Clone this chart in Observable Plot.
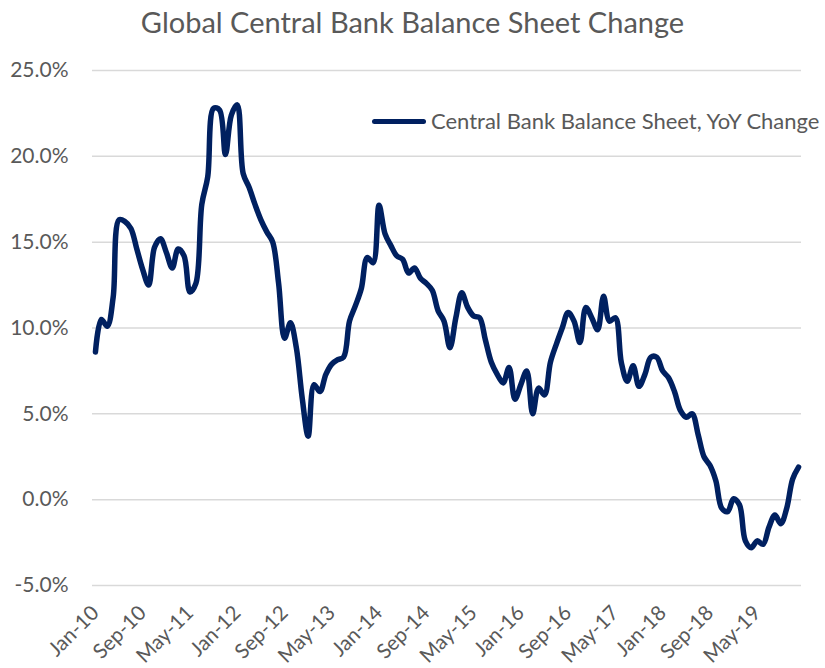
<!DOCTYPE html>
<html>
<head>
<meta charset="utf-8">
<script src="https://cdn.jsdelivr.net/npm/d3@7"></script>
<script src="https://cdn.jsdelivr.net/npm/@observablehq/plot@0.6"></script>
<style>
  html, body { margin: 0; padding: 0; background: #fff; }
  #wrap { position: relative; width: 825px; height: 668px; font-family: Lato, "Open Sans", sans-serif; color: #595959; overflow: hidden; }
  #title { position: absolute; left: 0; top: 2px; width: 825px; text-align: center; font-size: 29px; line-height: 40px; color: #595959; }
  #chart { position: absolute; left: 0; top: 48px; }
  #legend { position: absolute; left: 372px; top: 107px; display: flex; align-items: center; font-size: 22px; line-height: 28px; color: #595959; white-space: nowrap; }
  #legend .swatch { width: 54px; height: 5px; border-radius: 3px; background: #002060; margin-right: 5px; }
</style>
</head>
<body>
<div id="wrap">
  <div id="title">Global Central Bank Balance Sheet Change</div>
  <div id="chart"></div>
  <div id="legend"><div class="swatch"></div><span>Central Bank Balance Sheet, YoY Change</span></div>
</div>
<script>
// Monthly categories Jan-10 .. Dec-19
const startMonth = new Date(Date.UTC(2010, 0, 1));
const endMonth = new Date(Date.UTC(2020, 0, 1));
const months = d3.utcMonth.range(startMonth, endMonth).map(d3.utcFormat("%b-%y"));

// Central Bank Balance Sheet, YoY change (%)
const yoyChange = [
  8.6, 10.5, 10.1, 11.8, 16.3, 16.2, 15.8, 14.6, 13.4, 12.5,
  14.7, 15.2, 14.4, 13.5, 14.6, 14.2, 12.1, 12.6, 17.2, 18.8,
  22.8, 22.7, 20.1, 22.4, 23.0, 19.0, 18.2, 17.2, 16.3, 15.6,
  15.0, 12.6, 9.4, 10.3, 8.85, 5.9, 3.7, 6.7, 6.3, 7.3,
  7.9, 8.15, 8.3, 10.4, 11.3, 12.3, 14.1, 13.8, 17.15, 15.5,
  14.8, 14.2, 14.0, 13.2, 13.5, 12.9, 12.6, 12.2, 11.0, 10.4,
  8.85, 10.6, 12.05, 11.2, 10.7, 10.6, 9.3, 8.0, 7.3, 6.8,
  7.7, 5.85, 6.7, 7.5, 5.0, 6.5, 6.1, 8.0, 9.05, 10.0,
  10.9, 10.4, 9.15, 11.2, 10.6, 9.9, 11.85, 10.4, 10.6, 8.0,
  6.9, 7.8, 6.6, 7.3, 8.3, 8.3, 7.5, 7.1, 6.3, 5.2,
  4.8, 5.0, 3.8, 2.5, 2.0, 1.1, -0.5, -0.7, 0.05, -0.3,
  -2.4, -2.8, -2.4, -2.6, -1.6, -0.9, -1.4, -0.5, 1.2, 1.9
];

const xTickLabels = ["Jan-10","Sep-10","May-11","Jan-12","Sep-12","May-13","Jan-14","Sep-14",
                     "May-15","Jan-16","Sep-16","May-17","Jan-18","Sep-18","May-19"];
const yTicks = [-5, 0, 5, 10, 15, 20, 25];

const data = months.map((m, i) => ({month: m, value: yoyChange[i]}));

const chart = Plot.plot({
  width: 825,
  height: 620,
  marginLeft: 92,
  marginRight: 24,
  marginTop: 22,
  marginBottom: 83,
  style: {fontFamily: "Lato, 'Open Sans', sans-serif", color: "#595959", background: "#fff", overflow: "visible"},
  x: {type: "point", domain: months, padding: 0.5},
  y: {domain: [-5, 25]},
  marks: [
    Plot.gridY(yTicks, {stroke: "#d9d9d9", strokeOpacity: 1, strokeWidth: 1.5}),
    Plot.axisY(yTicks, {tickSize: 0, tickPadding: 24, fontSize: 21, fill: "#595959",
      tickFormat: d => d.toFixed(1) + "%", label: null}),
    Plot.axisX(xTickLabels, {tickSize: 0, tickPadding: 24, tickRotate: -45, fontSize: 20.5,
      fill: "#595959", label: null}),
    Plot.line(data, {x: "month", y: "value", stroke: "#002060", strokeWidth: 5.5,
      curve: "catmull-rom", strokeLinejoin: "round", strokeLinecap: "round"})
  ]
});
document.getElementById("chart").appendChild(chart);
</script>
</body>
</html>
